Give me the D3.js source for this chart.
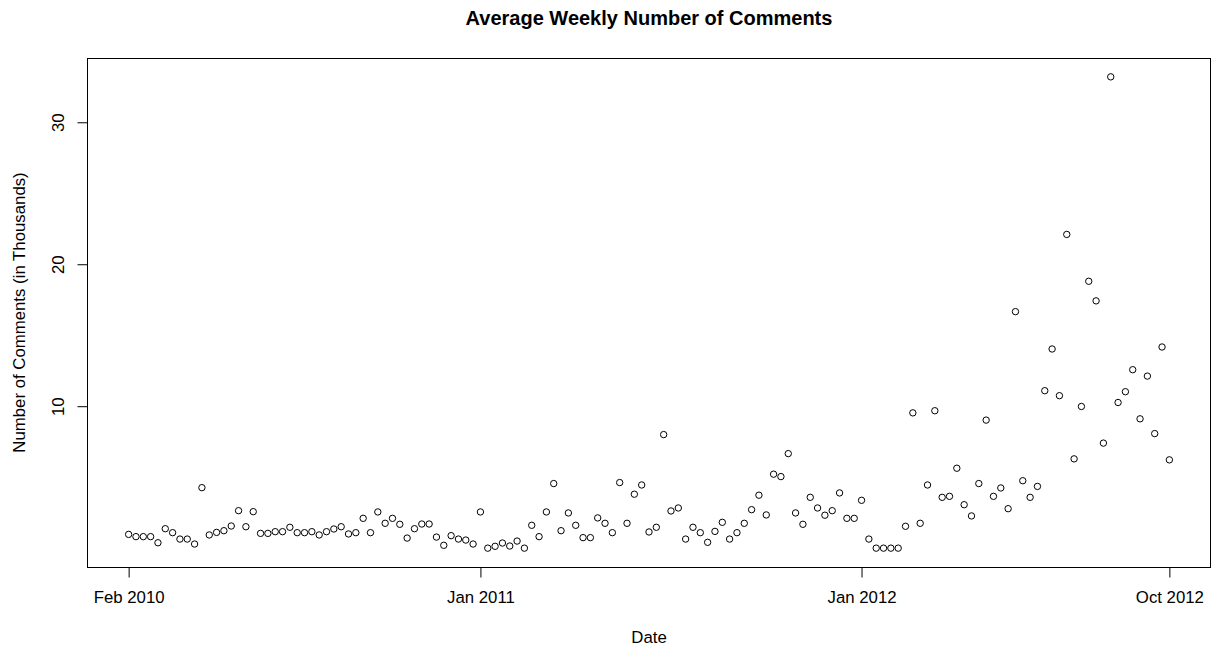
<!DOCTYPE html>
<html>
<head>
<meta charset="utf-8">
<script src="https://cdn.jsdelivr.net/npm/d3@7"></script>
<style>
  html, body { margin: 0; padding: 0; background: #fff; }
  svg { display: block; font-family: "Liberation Sans", Arial, sans-serif; }
</style>
</head>
<body>
<svg id="chart" width="1212" height="650"></svg>
<script>
// Average weekly comment counts (thousands), one value per week, Feb 2010 – Oct 2012
const weeklyComments = [
  0.97, 0.81, 0.81, 0.81, 0.38, 1.37, 1.09, 0.64, 0.64, 0.29,
  4.26, 0.93, 1.11, 1.23, 1.56, 2.64, 1.51, 2.57, 1.04, 1.04,
  1.16, 1.16, 1.47, 1.09, 1.09, 1.16, 0.93, 1.16, 1.35, 1.51,
  1.00, 1.09, 2.10, 1.09, 2.55, 1.75, 2.10, 1.68, 0.71, 1.37,
  1.70, 1.70, 0.78, 0.20, 0.88, 0.64, 0.57, 0.29, 2.55, 0.00,
  0.13, 0.36, 0.15, 0.50, 0.00, 1.61, 0.81, 2.55, 4.55, 1.23,
  2.48, 1.61, 0.74, 0.74, 2.13, 1.75, 1.09, 4.62, 1.75, 3.80,
  4.45, 1.14, 1.47, 8.00, 2.62, 2.83, 0.64, 1.47, 1.09, 0.41,
  1.18, 1.82, 0.64, 1.09, 1.75, 2.71, 3.73, 2.34, 5.21, 5.04,
  6.66, 2.48, 1.68, 3.58, 2.83, 2.32, 2.64, 3.89, 2.10, 2.10,
  3.37, 0.64, 0.00, 0.00, 0.00, 0.00, 1.54, 9.53, 1.75, 4.45,
  9.68, 3.58, 3.65, 5.63, 3.06, 2.27, 4.55, 9.02, 3.65, 4.24,
  2.78, 16.66, 4.75, 3.58, 4.35, 11.09, 14.03, 10.74, 22.10, 6.29,
  9.98, 18.80, 17.42, 7.40, 33.20, 10.26, 11.02, 12.57, 9.11, 12.12,
  8.07, 14.17, 6.22
];

// Week numbers (1-based) carrying a date label on the x axis
const dateTickWeeks = [1, 49, 101, 143];
const dateTickLabels = ["Feb 2010", "Jan 2011", "Jan 2012", "Oct 2012"];

// Y axis ticks (thousands of comments)
const countTicks = [10, 20, 30];

const points = weeklyComments.map((v, i) => ({ week: i + 1, value: v }));

const plot = { left: 87, right: 1211, top: 58, bottom: 567 };
const labelSize = 16.8;

// Base-graphics style range padding: 4% on each side of the data range
function padded(extent) {
  const span = extent[1] - extent[0];
  return [extent[0] - 0.04 * span, extent[1] + 0.04 * span];
}

const x = d3.scaleLinear()
  .domain(padded(d3.extent(points, d => d.week)))
  .range([plot.left, plot.right]);

const y = d3.scaleLinear()
  .domain(padded(d3.extent(points, d => d.value)))
  .range([plot.bottom, plot.top]);

const svg = d3.select("#chart");

// Plot frame
svg.append("rect")
  .attr("x", plot.left + 0.5)
  .attr("y", plot.top + 0.5)
  .attr("width", plot.right - plot.left - 1)
  .attr("height", plot.bottom - plot.top)
  .attr("fill", "none")
  .attr("stroke", "#000")
  .attr("stroke-width", 1);

// X axis (date labels at selected weeks)
const xAxis = d3.axisBottom(x)
  .tickValues(dateTickWeeks)
  .tickFormat((d, i) => dateTickLabels[i])
  .tickSize(10)
  .tickPadding(14)
  .tickSizeOuter(0);

const gx = svg.append("g")
  .attr("transform", `translate(0,${plot.bottom + 0.5})`)
  .call(xAxis);
gx.select(".domain").remove();
gx.selectAll(".tick line").attr("stroke", "#000");
gx.selectAll(".tick text")
  .attr("fill", "#000")
  .attr("font-size", labelSize)
  .attr("font-family", "Liberation Sans, Arial, sans-serif");

// Y axis with labels parallel to the axis
const yAxis = d3.axisLeft(y)
  .tickValues(countTicks)
  .tickFormat(d3.format("d"))
  .tickSize(10)
  .tickSizeOuter(0);

const gy = svg.append("g")
  .attr("transform", `translate(${plot.left + 0.5},0)`)
  .call(yAxis);
gy.select(".domain").remove();
gy.selectAll(".tick line").attr("stroke", "#000");
gy.selectAll(".tick text")
  .attr("fill", "#000")
  .attr("font-size", labelSize)
  .attr("font-family", "Liberation Sans, Arial, sans-serif")
  .attr("x", null)
  .attr("dy", null)
  .attr("text-anchor", "middle")
  .attr("transform", "translate(-24,0) rotate(-90)");

// Weekly points as open circles
svg.append("g")
  .selectAll("circle")
  .data(points)
  .join("circle")
  .attr("cx", d => x(d.week))
  .attr("cy", d => y(d.value))
  .attr("r", 3.2)
  .attr("fill", "none")
  .attr("stroke", "#000")
  .attr("stroke-width", 1);

const midX = (plot.left + plot.right) / 2;
const midY = (plot.top + plot.bottom) / 2;

// Title
svg.append("text")
  .attr("x", midX)
  .attr("y", 25)
  .attr("text-anchor", "middle")
  .attr("font-size", 20)
  .attr("font-weight", "bold")
  .attr("fill", "#000")
  .text("Average Weekly Number of Comments");

// Axis titles
svg.append("text")
  .attr("x", midX)
  .attr("y", 643)
  .attr("text-anchor", "middle")
  .attr("font-size", labelSize)
  .attr("fill", "#000")
  .text("Date");

svg.append("text")
  .attr("transform", `translate(25,${midY}) rotate(-90)`)
  .attr("text-anchor", "middle")
  .attr("font-size", labelSize)
  .attr("fill", "#000")
  .text("Number of Comments (in Thousands)");
</script>
</body>
</html>
